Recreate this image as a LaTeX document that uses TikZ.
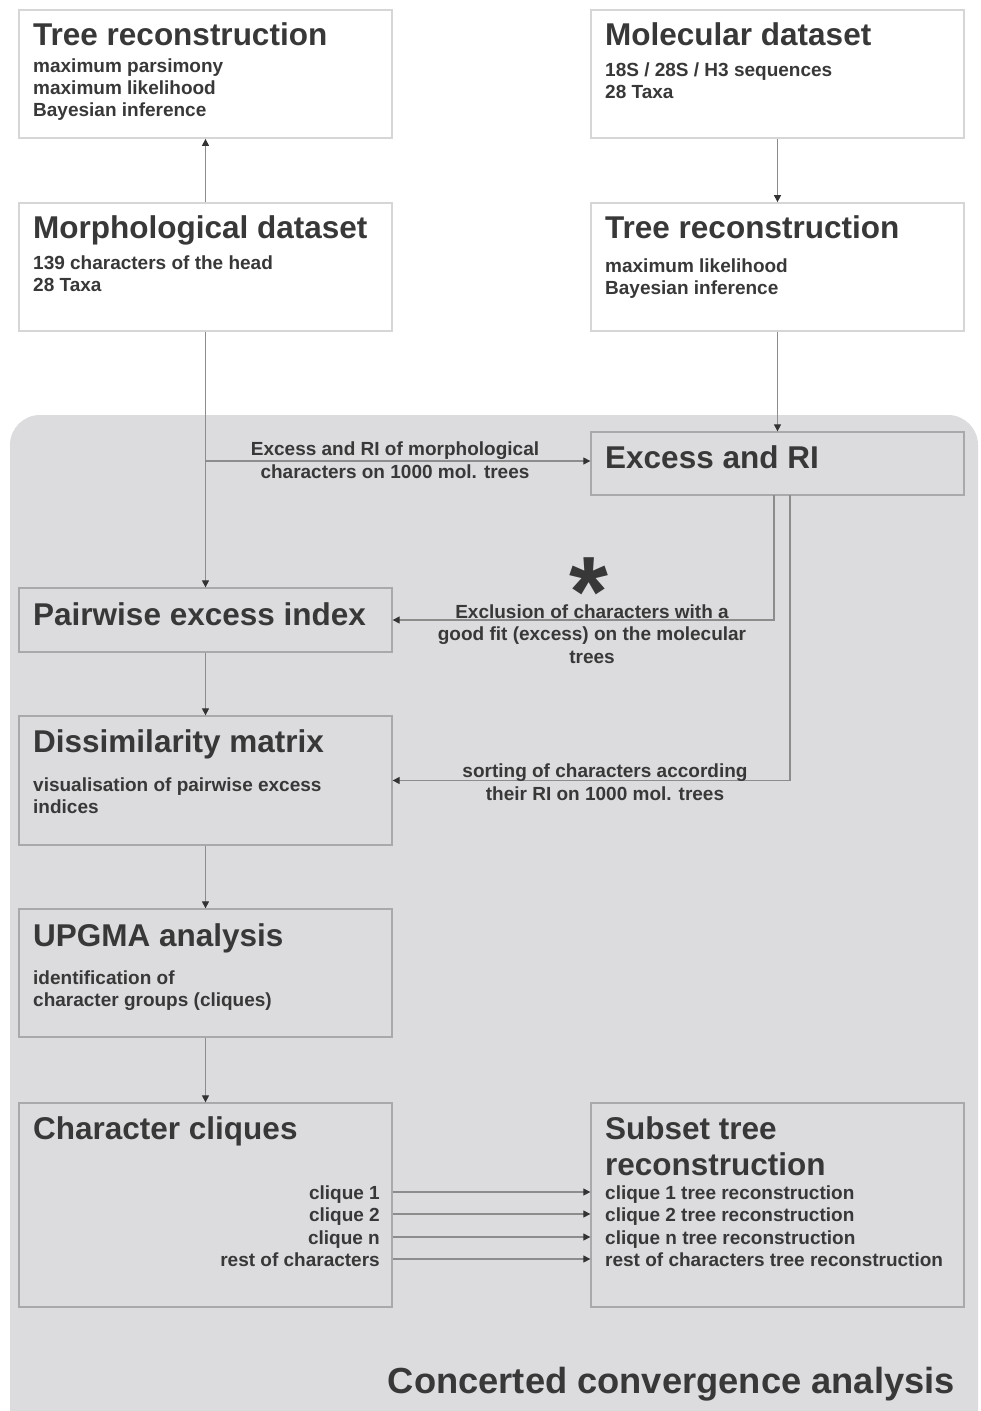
\documentclass[tikz,border=0pt]{standalone}
\usepackage{fontspec}
\setmainfont{Liberation Sans}
\usetikzlibrary{arrows.meta}
\definecolor{txt}{HTML}{383838}
\definecolor{regionfill}{HTML}{DCDCDF}
\definecolor{topborder}{HTML}{D6D6D6}
\definecolor{inborder}{HTML}{A9A9AB}
\definecolor{linecol}{HTML}{8C8C8C}
\definecolor{tipcol}{HTML}{333333}
\begin{document}
\begin{tikzpicture}[x=1pt,y=-1pt,
  topbox/.style={draw=topborder, line width=1.8pt, fill=white, minimum width=373pt, inner sep=0pt},
  inbox/.style={draw=inborder, line width=1.3pt, minimum width=373pt, inner sep=0pt},
  ttl/.style={anchor=base west, inner sep=0pt, text=txt, font=\fontsize{31.5}{36}\selectfont\bfseries},
  sub/.style={anchor=base west, inner sep=0pt, text=txt, font=\fontsize{19}{22.4}\selectfont\bfseries},
  subr/.style={anchor=base east, inner sep=0pt, text=txt, font=\fontsize{19}{22.4}\selectfont\bfseries},
  lab/.style={align=center, inner sep=0pt, text=txt, font=\fontsize{19}{22.6}\selectfont\bfseries},
  arr/.style={draw=linecol, line width=1.2pt, -{Triangle[length=7pt,width=7pt,color=tipcol]}},
  ln/.style={draw=linecol, line width=1.2pt}
]
\useasboundingbox (0,0) rectangle (980,1411);
\fill[white] (0,0) rectangle (980,1411);
% region
\node[draw=none, fill=regionfill, rounded corners=30pt, minimum width=968pt, minimum height=1026pt, inner sep=0pt] (region) at (494,928) {};

% top boxes
\node[topbox, minimum height=128pt] (tr1) at (205.5,74) {};
\node[topbox, minimum height=128pt] (mol) at (777.5,74) {};
\node[topbox, minimum height=128pt] (morph) at (205.5,267) {};
\node[topbox, minimum height=128pt] (tr2) at (777.5,267) {};

% inner boxes
\node[inbox, minimum height=63pt] (exc) at (777.5,463.5) {};
\node[inbox, minimum height=64pt] (pair) at (205.5,620) {};
\node[inbox, minimum height=129pt] (dis) at (205.5,780.5) {};
\node[inbox, minimum height=128pt] (upg) at (205.5,973) {};
\node[inbox, minimum height=204pt] (cli) at (205.5,1205) {};
\node[inbox, minimum height=204pt] (sub) at (777.5,1205) {};

% texts top-left
\node[ttl] (t1) at (33,45) {Tree reconstruction};
\node[sub] (t1a) at (33,72) {maximum parsimony};
\node[sub] (t1b) at (33,94) {maximum likelihood};
\node[sub] (t1c) at (33,116) {Bayesian inference};

\node[ttl] (m1) at (605,45) {Molecular dataset};
\node[sub] (m1a) at (605,76) {18S / 28S / H3 sequences};
\node[sub] (m1b) at (605,98) {28 Taxa};

\node[ttl] (p1) at (33,238) {Morphological dataset};
\node[sub] (p1a) at (33,269) {139 characters of the head};
\node[sub] (p1b) at (33,291) {28 Taxa};

\node[ttl] (r1) at (605,238) {Tree reconstruction};
\node[sub] (r1a) at (605,272) {maximum likelihood};
\node[sub] (r1b) at (605,294) {Bayesian inference};

\node[ttl] (e1) at (605,468) {Excess and RI};
\node[ttl] (w1) at (33,625) {Pairwise excess index};

\node[ttl] (d1) at (33,752) {Dissimilarity matrix};
\node[sub] (d1a) at (33,791) {visualisation of pairwise excess};
\node[sub] (d1b) at (33,813) {indices};

\node[ttl] (u1) at (33,946) {UPGMA analysis};
\node[sub] (u1a) at (33,984) {identification of};
\node[sub] (u1b) at (33,1006) {character groups (cliques)};

\node[ttl] (c1) at (33,1139) {Character cliques};
\node[subr] (cq1) at (380,1199) {clique 1};
\node[subr] (cq2) at (380,1221) {clique 2};
\node[subr] (cq3) at (380,1244) {clique n};
\node[subr] (cq4) at (380,1266) {rest of characters};

\node[ttl] (s1) at (605,1139) {Subset tree};
\node[ttl] (s2) at (605,1175) {reconstruction};
\node[sub] (sq1) at (605,1199) {clique 1 tree reconstruction};
\node[sub] (sq2) at (605,1221) {clique 2 tree reconstruction};
\node[sub] (sq3) at (605,1244) {clique n tree reconstruction};
\node[sub] (sq4) at (605,1266) {rest of characters tree reconstruction};

\node[anchor=base east, inner sep=0pt, text=txt, font=\fontsize{36.3}{40}\selectfont\bfseries] (ttlcca) at (955,1393) {Concerted convergence analysis};

% connectors
\draw[arr] (morph.north) -- (tr1.south);
\draw[arr] (mol.south) -- (tr2.north);
\draw[arr] (tr2.south) -- (exc.north);
\draw[arr] (morph.south) -- (pair.north);
\coordinate (br) at (206,461);
\draw[arr] (br) -- (br -| exc.west);
\node[lab] (labA) at (395,460) {Excess and RI of morphological\\characters on 1000 mol. trees};

\coordinate (ex1) at (774,495);
\coordinate (ex2) at (790,495);
\draw[arr] (ex1) |- (pair.east);
\draw[arr] (ex2) |- (dis.east);
\node[lab] (labB) at (592,634) {Exclusion of characters with a\\good fit (excess) on the molecular\\trees};
\node[anchor=base, inner sep=0pt, text=txt, font=\fontsize{100}{100}\selectfont\bfseries] (star) at (589,626) {\smash{*}};
\node[lab] (labC) at (605,782) {sorting of characters according\\their RI on 1000 mol. trees};

\draw[arr] (pair.south) -- (dis.north);
\draw[arr] (dis.south) -- (upg.north);
\draw[arr] (upg.south) -- (cli.north);

\coordinate (y1) at (0,1192);
\coordinate (y2) at (0,1214);
\coordinate (y3) at (0,1237);
\coordinate (y4) at (0,1259);
\draw[arr] (cli.east |- y1) -- (sub.west |- y1);
\draw[arr] (cli.east |- y2) -- (sub.west |- y2);
\draw[arr] (cli.east |- y3) -- (sub.west |- y3);
\draw[arr] (cli.east |- y4) -- (sub.west |- y4);
\end{tikzpicture}
\end{document}
